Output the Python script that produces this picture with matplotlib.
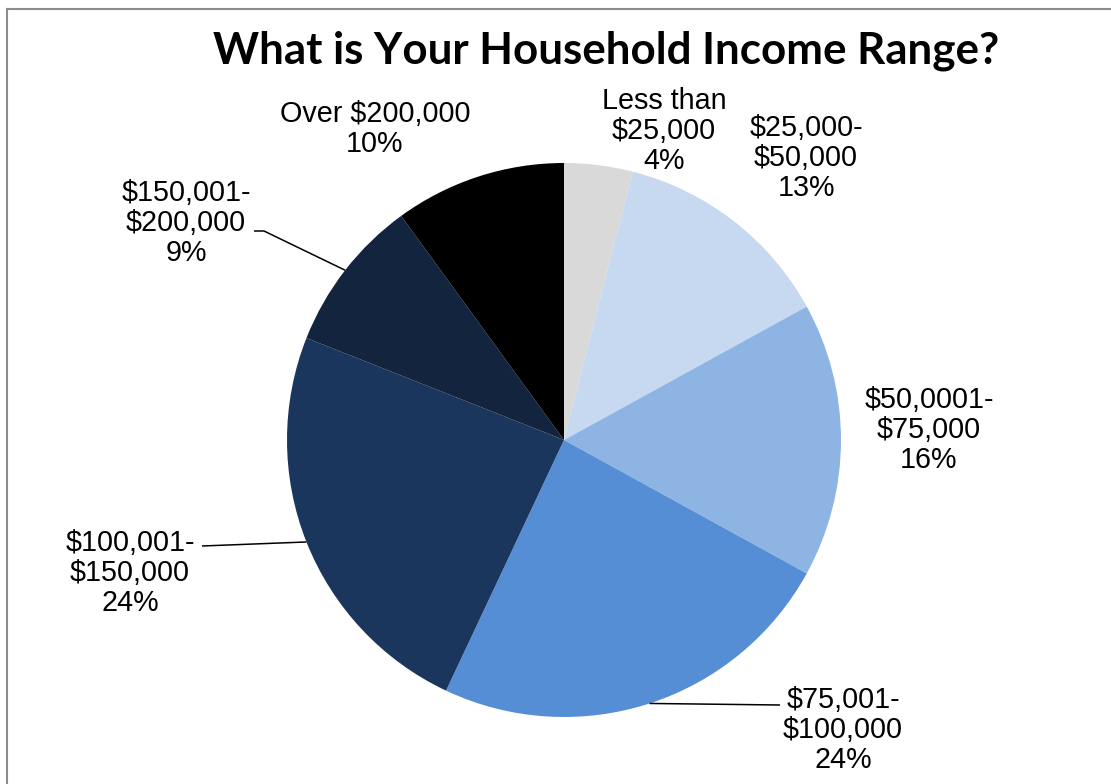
import numpy as np
import matplotlib
matplotlib.use("Agg")
import matplotlib.pyplot as plt
from matplotlib.lines import Line2D

categories = ["Less than\n$25,000", "$25,000-\n$50,000", "$50,0001-\n$75,000",
              "$75,001-\n$100,000", "$100,001-\n$150,000", "$150,001-\n$200,000",
              "Over $200,000"]
percents = [4, 13, 16, 24, 24, 9, 10]
colors = ["#D9D9D9", "#C6D9F1", "#8EB4E3", "#558ED5", "#1B365D", "#12243E", "#000000"]
title = "What is Your Household Income Range?"

W, H = 1111, 784
fig = plt.figure(figsize=(W / 100, H / 100), dpi=100)
ax = fig.add_axes([0, 0, 1, 1])

cx, cy, R = 564, H - 440, 277
wedges, _ = ax.pie(percents, colors=colors, startangle=90, counterclock=False,
                   center=(cx, cy), radius=R, wedgeprops=dict(linewidth=0), frame=True)
ax.set_xlim(0, W)
ax.set_ylim(0, H)
ax.axis('off')

# label centres (pixel coords, top origin)
label_pos = [(664, 131), (806, 158), (929, 430), (843, 730), (130, 573), (186, 223), (375, 129)]
for cat, p, (lx, ly) in zip(categories, percents, label_pos):
    ax.text(lx, H - ly, f"{cat}\n{p}%", ha='center', va='center', multialignment='center',
            fontsize=20.7, family='Liberation Sans', linespacing=1.08, color='black')

# leader lines
anchors = {5: [(254, 231), (264, 231)], 4: [(202, 546)], 3: [(780, 705)]}
for i, pts in anchors.items():
    w = wedges[i]
    mid = np.deg2rad((w.theta1 + w.theta2) / 2)
    ex, ey = cx + R * np.cos(mid), cy + R * np.sin(mid)
    xs = [p[0] for p in pts]
    ys = [H - p[1] for p in pts]
    if i == 3:
        xs = [ex] + xs
        ys = [ey] + ys
    else:
        xs = xs + [ex]
        ys = ys + [ey]
    ax.plot(xs, ys, color='black', lw=1.1, solid_capstyle='butt')

# title fitted to width
t = fig.text(606 / W, 1 - 51 / H, title, ha='center', va='center', fontsize=30,
             fontweight='bold', family='Lato')
fig.canvas.draw()
bb = t.get_window_extent()
t.set_fontsize(30 * 787 / bb.width)

# frame
fig.add_artist(Line2D([7 / W, 1], [1 - 9 / H, 1 - 9 / H], color='#8C8C8C', lw=1.5))
fig.add_artist(Line2D([7 / W, 7 / W], [0, 1 - 9 / H], color='#8C8C8C', lw=1.5))

fig.savefig("out.png", dpi=100)
